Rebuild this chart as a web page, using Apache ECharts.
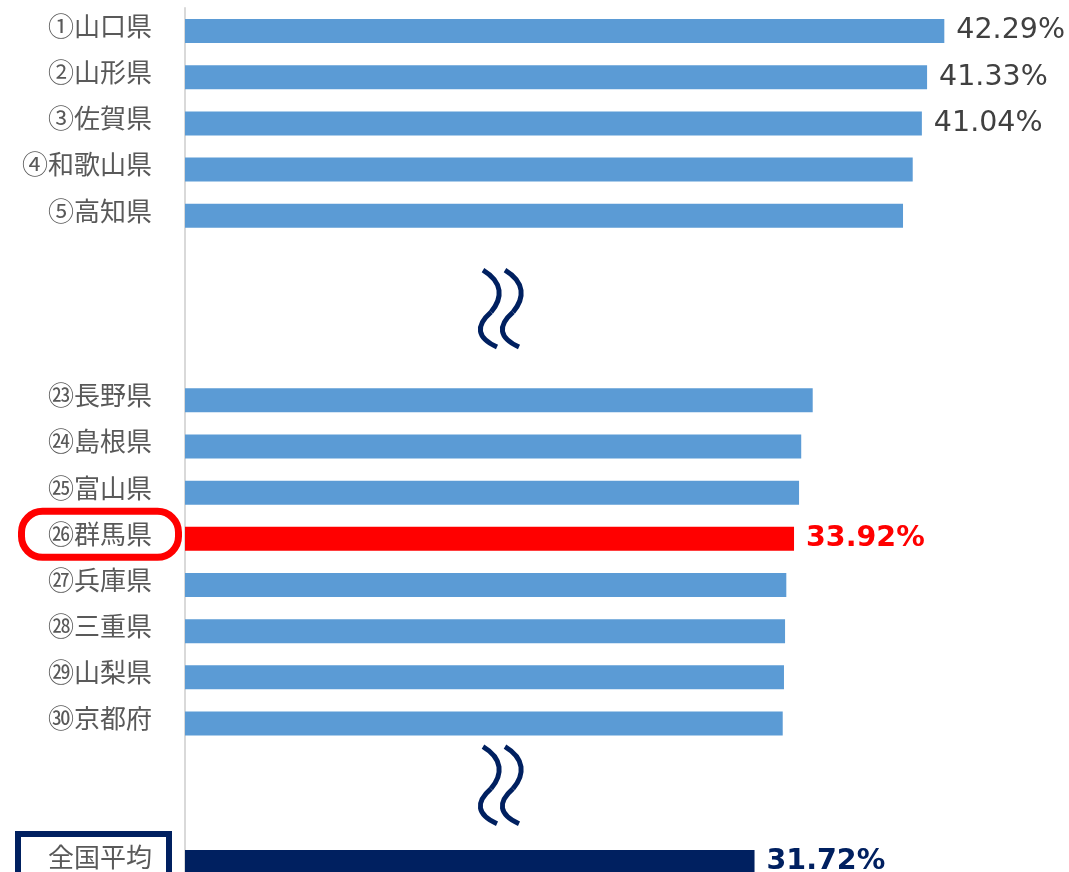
<!DOCTYPE html>
<html>
<head>
<meta charset="utf-8">
<script src="https://cdn.jsdelivr.net/npm/echarts@6/dist/echarts.min.js"></script>
<style>
html,body{margin:0;padding:0;background:#fff;}
#chart{width:1069px;height:872px;}
</style>
</head>
<body>
<div id="chart"></div>
<script>
// Categories top to bottom; empty strings are the gaps where the break marks sit
const categories = ['①山口県','②山形県','③佐賀県','④和歌山県','⑤高知県','','','',
  '㉓長野県','㉔島根県','㉕富山県','㉖群馬県','㉗兵庫県','㉘三重県','㉙山梨県','㉚京都府','','','全国平均'];
const values = [42.29,41.33,41.04,40.53,39.99,null,null,null,
  34.96,34.32,34.20,33.92,33.49,33.42,33.36,33.29,null,null,31.72];
const labeledNames = ['①山口県','②山形県','③佐賀県'];
const highlightName = '㉖群馬県';
const averageName = '全国平均';
const breakSlots = [6, 16.5];

const BLUE = '#5B9BD5', RED = '#FF0000', NAVY = '#002060';

const chart = echarts.init(document.getElementById('chart'));

const seriesData = values.map((v, i) => {
  const name = categories[i];
  if (v === null) return '-';
  let color = BLUE, lab = {show: false};
  if (labeledNames.includes(name)) {
    lab = {show: true, color: '#404040', fontWeight: 'normal'};
  }
  if (name === highlightName) { color = RED; lab = {show: true, color: RED, fontWeight: 'bold'}; }
  if (name === averageName) { color = NAVY; lab = {show: true, color: NAVY, fontWeight: 'bold'}; }
  return {value: v, itemStyle: {color: color}, label: lab};
});

chart.setOption({
  animation: false,
  grid: {left: 185, top: 8, width: 897.75, height: 877, containLabel: false, outerBoundsMode: 'none'},
  xAxis: {type: 'value', min: 0, max: 50, show: false},
  yAxis: {
    type: 'category', inverse: true, data: categories,
    axisLine: {show: true, lineStyle: {color: '#D9D9D9', width: 2}},
    axisTick: {show: false},
    axisLabel: {
      margin: 33, fontSize: 26, color: '#595959',
      fontFamily: '"Noto Sans CJK JP", sans-serif',
      verticalAlign: 'bottom', lineHeight: 10,
      interval: 0
    }
  },
  series: [{
    type: 'bar', data: seriesData, barWidth: 24,
    label: {
      position: 'right', distance: 12, fontSize: 28.5,
      fontFamily: '"DejaVu Sans", sans-serif',
      formatter: p => p.value.toFixed(2) + '%'
    }
  }]
});

function drawDecorations() {
  const x0 = chart.convertToPixel({xAxisIndex: 0}, 0);
  const yOf = name => chart.convertToPixel({yAxisIndex: 0}, categories.indexOf(name));
  const slotY = s => {
    const a = chart.convertToPixel({yAxisIndex: 0}, Math.floor(s));
    const b = chart.convertToPixel({yAxisIndex: 0}, Math.ceil(s));
    return a + (b - a) * (s - Math.floor(s));
  };
  const elements = [];
  const yH = yOf(highlightName);
  elements.push({type: 'rect', shape: {x: 21.5, y: yH - 27.5, width: 157, height: 46, r: 21},
    style: {fill: 'none', stroke: RED, lineWidth: 7}, z: 100});
  const yA = yOf(averageName);
  elements.push({type: 'rect', shape: {x: 18, y: yA - 28, width: 151, height: 60, r: 0},
    style: {fill: 'none', stroke: NAVY, lineWidth: 6}, z: 100});
  const offsets = [-38, -46];
  breakSlots.forEach((s, k) => {
    const cy = slotY(s) + offsets[k];
    [0, 22].forEach(dx => {
      const bx = x0 + 298 + dx;
      elements.push({type: 'bezierCurve', shape: {x1: bx, y1: cy, cpx1: bx + 20, cpy1: cy + 12, cpx2: bx + 20, cpy2: cy + 28, x2: bx + 8, y2: cy + 42},
        style: {stroke: NAVY, lineWidth: 5, fill: 'none'}, z: 100});
      elements.push({type: 'bezierCurve', shape: {x1: bx + 8, y1: cy + 42, cpx1: bx - 8, cpy1: cy + 56, cpx2: bx - 6, cpy2: cy + 68, x2: bx + 14, y2: cy + 77},
        style: {stroke: NAVY, lineWidth: 5, fill: 'none'}, z: 100});
    });
  });
  chart.setOption({graphic: {elements: elements}});
}
drawDecorations();
</script>
</body>
</html>
